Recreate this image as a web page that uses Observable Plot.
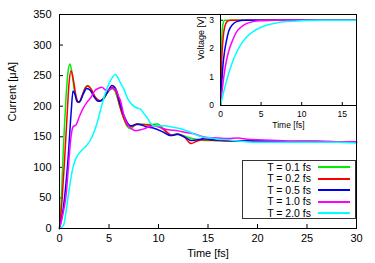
<!DOCTYPE html>
<html><head><meta charset="utf-8">
<script src="https://cdn.jsdelivr.net/npm/d3@7"></script>
<script src="https://cdn.jsdelivr.net/npm/@observablehq/plot@0.6"></script>
<style>
body{margin:0;background:#fff;}
#wrap{position:relative;width:375px;height:263px;font-family:"Liberation Sans",Arial,sans-serif;color:#000;}
#wrap svg{position:absolute;top:0;}
</style></head><body><div id="wrap"></div>
<script>
// ---- data ----
const seriesNames = ["T = 0.1 fs", "T = 0.2 fs", "T = 0.5 fs", "T = 1.0 fs", "T = 2.0 fs"];
const seriesColors = ["#00ee00", "#ff0000", "#0000ee", "#ff00ff", "#00ffff"];

// main panel: current [μA] vs time [fs]
const curT01 = [[0,0],[0.2,55],[0.34,111],[0.5,168],[0.68,220],[0.85,255],[1.05,269],[1.25,256],[1.5,226],[1.75,209],[2.0,206],[2.3,217],[2.6,230],[2.85,234],[3.1,230],[3.5,217],[3.8,210],[4.1,208],[4.5,213],[4.9,223],[5.3,229],[5.6,225],[6.0,205],[6.4,184],[6.8,168],[7.2,163],[7.6,169],[8.0,171],[8.6,170],[9.2,170],[9.9,171],[10.5,163],[11.2,152],[11.9,155],[12.5,152],[13.2,148],[13.9,146],[14.6,144],[15.5,144],[17,143],[19,144],[21,143],[23,142],[25,143],[27,142],[30,141]];
const curT02 = [[0,0],[0.25,45],[0.51,111],[0.75,180],[0.95,235],[1.16,258],[1.4,243],[1.65,218],[1.95,206],[2.3,218],[2.6,230],[2.85,233],[3.2,228],[3.6,215],[4.1,209],[4.5,214],[4.9,224],[5.3,231],[5.7,224],[6.1,200],[6.5,180],[6.9,168],[7.3,167],[7.8,170],[8.5,170],[9.2,169],[9.9,168],[10.6,161],[11.3,153],[12.0,154],[12.6,150],[13.3,139],[13.9,143],[14.6,145],[16,144],[18,143],[20,143],[22,142],[25,142],[28,141],[30,141]];
const curT05 = [[0,0],[0.4,35],[0.85,111],[1.19,193],[1.36,225],[1.55,220],[1.8,207],[2.05,208],[2.4,220],[2.75,229],[3.1,226],[3.5,215],[3.9,208],[4.3,210],[4.8,222],[5.3,234],[5.7,228],[6.1,205],[6.5,185],[6.9,172],[7.2,168],[7.85,171],[8.86,166],[9.53,164],[10.55,157],[11.23,152],[11.9,154],[12.9,147],[13.3,144],[14.0,145],[14.6,147],[15.5,145],[17,144],[19,143],[21,143],[24,142],[27,142],[30,141]];
const curT10 = [[0,0],[0.3,20],[0.68,57],[0.95,111],[1.09,139],[1.36,166],[1.69,170],[2.03,184],[2.37,196],[2.8,207],[3.2,215],[3.6,226],[3.9,229],[4.3,231],[4.6,227],[4.9,226],[5.3,229],[5.65,228],[6.0,215],[6.16,209],[6.5,185],[6.84,171],[7.3,163],[7.68,160],[8.1,161],[8.52,163],[9.0,166],[9.53,168],[10.0,166],[10.55,163],[11.2,161],[11.9,160],[12.8,157],[13.6,155],[14.3,151],[14.95,149],[16,148],[17,147],[18,148],[19,146],[20,145],[22,144],[24,143],[26,143],[28,142],[30,142]];
const curT20 = [[0,0],[0.41,5],[0.68,30],[1.01,68],[1.36,100],[1.7,116],[2.2,127],[2.7,135],[3.3,150],[3.79,172],[4.13,193],[4.6,220],[5.14,242],[5.65,252],[6.1,240],[6.5,228],[6.9,212],[7.3,203],[7.85,197],[8.2,195],[8.52,188],[8.9,180],[9.2,172],[9.6,168],[10.55,168],[11.4,166],[12.24,163],[13.26,157],[14.0,152],[14.6,149],[15.3,148],[16,146],[17,145],[18,143],[20,141],[22,141],[25,141],[28,141],[30,140]];

// inset: voltage [V] vs time [fs]
const volT01 = [[0,0],[0.05,1.2],[0.1,1.9],[0.2,2.6],[0.3,2.85],[0.5,3.0],[17,3.0]];
const volT02 = [[0,0],[0.1,1.2],[0.2,1.9],[0.3,2.3],[0.5,2.75],[0.8,2.95],[1.2,3.0],[17,3.0]];
const volT05 = [[0,0],[0.15,0.8],[0.3,1.4],[0.5,1.9],[0.75,2.3],[1.0,2.6],[1.5,2.85],[2.0,2.95],[3.0,3.0],[17,3.0]];
const volT10 = [[0,0],[0.25,0.65],[0.5,1.2],[0.75,1.6],[1.0,1.9],[1.5,2.3],[2.0,2.6],[2.5,2.75],[3.0,2.85],[4.0,2.95],[5.0,2.98],[7.0,3.0],[17,3.0]];
const volT20 = [[0,0],[0.5,0.6],[1.0,1.12],[1.5,1.55],[2.0,1.88],[2.5,2.14],[3.0,2.34],[4.0,2.6],[5.0,2.75],[6.0,2.85],[7.0,2.91],[8.0,2.95],[10.0,2.98],[12.0,3.0],[17,3.0]];

const mainXTicks = [0, 5, 10, 15, 20, 25, 30];
const mainYTicks = [0, 50, 100, 150, 200, 250, 300, 350];
const insetXTicks = [0, 5, 10, 15];
const insetYTicks = [0, 1, 2, 3];
const mainXLabel = "Time [fs]";
const mainYLabel = "Current [μA]";
const insetXLabel = "Time [fs]";
const insetYLabel = "Voltage [V]";

// ---- build tables ----
const toRows = (arrs) => arrs.flatMap((a, i) => a.map(([t, v]) => ({t, v, s: seriesNames[i]})));
const mainRows = toRows([curT01, curT02, curT05, curT10, curT20]);
const insetRows = toRows([volT01, volT02, volT05, volT10, volT20]);

const font = "'Liberation Sans', Arial, sans-serif";
const wrap = document.getElementById("wrap");

const main = Plot.plot({
  width: 375, height: 263,
  marginLeft: 59, marginRight: 19, marginTop: 14, marginBottom: 35,
  style: {fontFamily: font, fontSize: "11px", color: "#000", background: "none"},
  x: {domain: [0, 30]},
  y: {domain: [0, 350]},
  color: {domain: seriesNames, range: seriesColors},
  marks: [
    Plot.axisX(mainXTicks, {tickSize: -4, tickPadding: 10, label: null}),
    Plot.axisY(mainYTicks, {tickSize: -4, tickPadding: 12, label: null}),
    Plot.line(mainRows, {x: "t", y: "v", z: "s", stroke: "s", strokeWidth: 1.5, curve: "monotone-x"}),
    Plot.frame({stroke: "#000", strokeWidth: 1}),
    Plot.text([mainXLabel], {frameAnchor: "bottom", dy: 28, text: d => d, fontSize: 11}),
    Plot.text([mainYLabel], {frameAnchor: "left", dx: -47, rotate: -90, text: d => d, fontSize: 11})
  ]
});
main.style.left = "0px";
wrap.appendChild(main);

const inset = Plot.plot({
  width: 185, height: 135,
  marginLeft: 30, marginRight: 19, marginTop: 14, marginBottom: 30,
  style: {fontFamily: font, fontSize: "8.5px", color: "#000", background: "none"},
  x: {domain: [0, 16.75]},
  y: {domain: [0, 3.2]},
  color: {domain: seriesNames, range: seriesColors},
  marks: [
    Plot.axisX(insetXTicks, {tickSize: -3, tickPadding: 8.5, label: null}),
    Plot.axisY(insetYTicks, {tickSize: -3, tickPadding: 9.5, label: null}),
    Plot.line(insetRows, {x: "t", y: "v", z: "s", stroke: "s", strokeWidth: 1.5, curve: "monotone-x", clip: true}),
    Plot.frame({stroke: "#000", strokeWidth: 1}),
    Plot.text([insetXLabel], {frameAnchor: "bottom", dy: 22, text: d => d, fontSize: 8.5}),
    Plot.text([insetYLabel], {frameAnchor: "left", dx: -19, rotate: -90, text: d => d, fontSize: 9})
  ]
});
inset.style.left = "190px";
wrap.appendChild(inset);

// legend (inside main frame, lower right)
const leg = document.createElement("div");
leg.style.cssText = "position:absolute;left:242px;top:160px;width:114px;height:59px;border:1px solid #333;box-sizing:border-box;background:#fff;";
seriesNames.forEach((name, i) => {
  const cy = 6 + i * 11.5;
  const txt = document.createElement("div");
  txt.textContent = name;
  txt.style.cssText = `position:absolute;right:${114 - 70}px;top:${cy - 6.5}px;font-size:10.5px;line-height:13px;white-space:nowrap;`;
  leg.appendChild(txt);
  const ln = document.createElement("div");
  ln.style.cssText = `position:absolute;left:75px;top:${cy - 1}px;width:32px;height:2px;background:${seriesColors[i]};`;
  leg.appendChild(ln);
});
wrap.appendChild(leg);
</script>
</body></html>
